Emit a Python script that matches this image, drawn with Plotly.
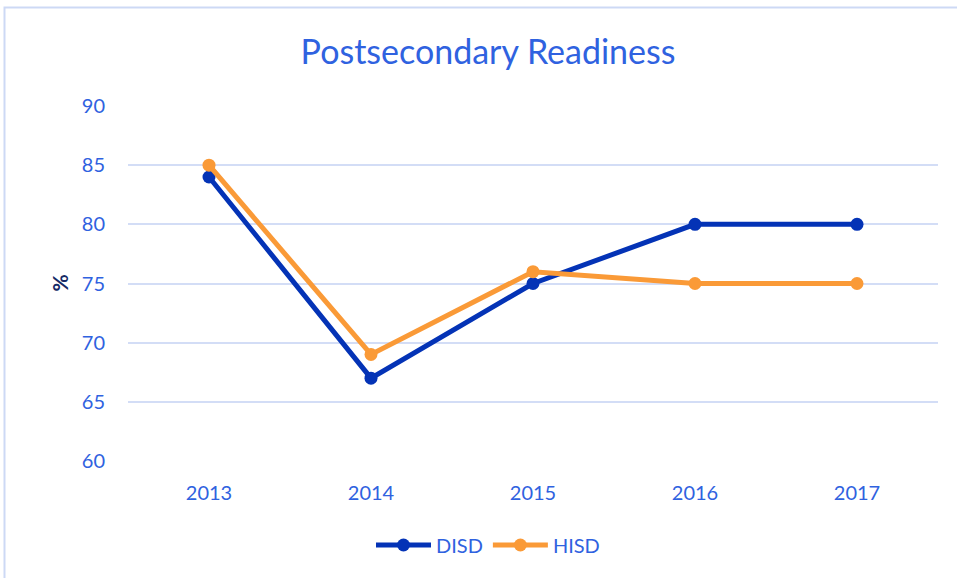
import plotly.graph_objects as go

years = ["2013", "2014", "2015", "2016", "2017"]
disd = [84, 67, 75, 80, 80]
hisd = [85, 69, 76, 75, 75]
y_ticks = [60, 65, 70, 75, 80, 85, 90]

BLUE_TXT = "#2f62e0"
GRID = "#d3ddf6"
FONT = "Lato, Carlito, Calibri, sans-serif"

fig = go.Figure()
fig.add_trace(go.Scatter(x=years, y=disd, name="DISD", mode="lines+markers",
                         line=dict(color="#0433b6", width=5),
                         marker=dict(color="#0433b6", size=13)))
fig.add_trace(go.Scatter(x=years, y=hisd, name="HISD", mode="lines+markers",
                         line=dict(color="#fa9a37", width=5),
                         marker=dict(color="#fa9a37", size=13)))

W, H = 957, 578
L, R, T, B = 128, 19, 106, 117
pw = W - L - R
ph = H - T - B

def px_x(x):
    return (x - L) / pw

def px_y(y):
    return (H - B - y) / ph

fig.update_layout(
    width=W, height=H,
    margin=dict(l=L, r=R, t=T, b=B),
    paper_bgcolor="white", plot_bgcolor="white",
    font=dict(family=FONT, color=BLUE_TXT, size=20),
    title=dict(text="Postsecondary Readiness", x=0.51, xanchor="center",
               y=1 - 52 / H, yanchor="middle",
               font=dict(size=34, color=BLUE_TXT, family=FONT)),
    xaxis=dict(type="category", range=[-0.5, 4.5], showgrid=False,
               showline=False, zeroline=False, ticks="",
               ticklabelstandoff=18, tickfont=dict(size=20, color=BLUE_TXT)),
    yaxis=dict(range=[60, 90], tickvals=y_ticks, showgrid=True, gridcolor=GRID,
               gridwidth=1.5, zeroline=False, showline=False, ticks="",
               ticklabelstandoff=22, tickfont=dict(size=20, color=BLUE_TXT)),
    showlegend=True,
    legend=dict(orientation="h", x=px_x(488), xanchor="center",
                y=px_y(545), yanchor="middle", itemwidth=55,
                font=dict(size=20, color=BLUE_TXT), traceorder="normal"),
    annotations=[dict(text="<b>%</b>", x=px_x(59), xref="paper", xanchor="center",
                      y=75, yref="y", yanchor="middle",
                      textangle=-90, showarrow=False,
                      font=dict(size=21, color="#152a66", family=FONT))],
    shapes=[dict(type="rect", xref="paper", yref="paper",
                 x0=px_x(4.5), x1=px_x(970), y0=px_y(590), y1=px_y(7.5),
                 line=dict(color="#cdd9f5", width=2), fillcolor="rgba(0,0,0,0)",
                 layer="below")],
)

fig.write_html("out.html", config={"displayModeBar": False},
               post_script="document.body.style.margin='0';document.body.style.padding='0';")
